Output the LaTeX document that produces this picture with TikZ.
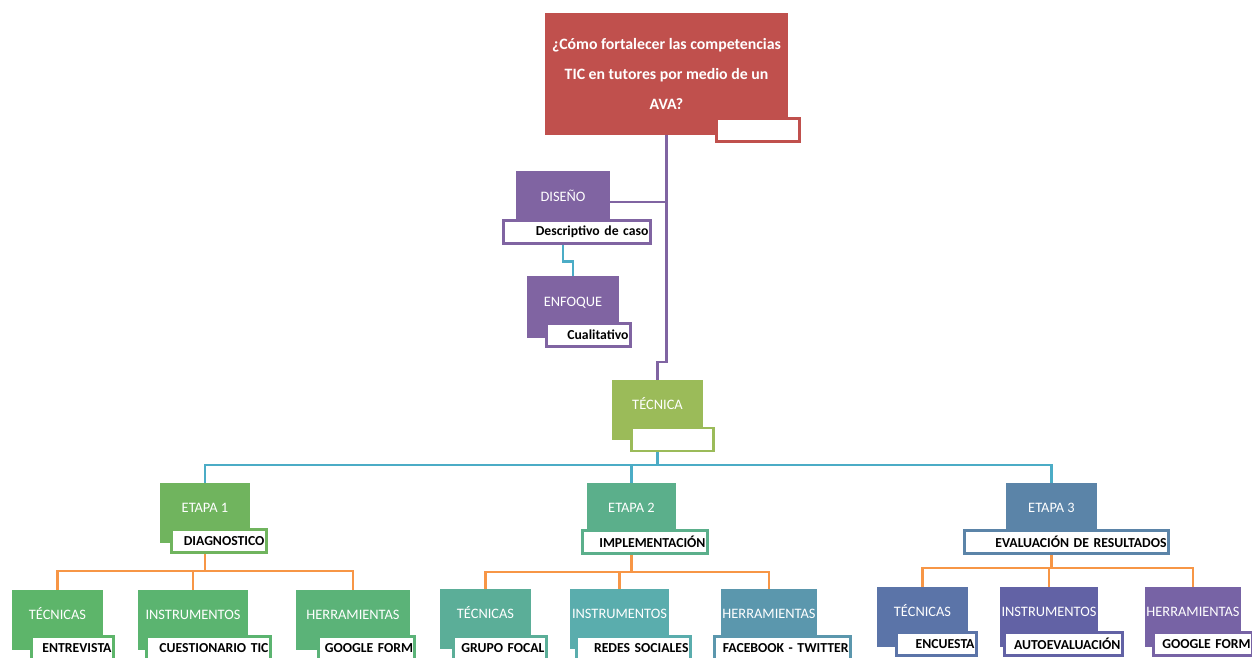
\documentclass[tikz,border=0pt]{standalone}
\usepackage{fontspec}
\setmainfont{Carlito}
\usetikzlibrary{calc}

\definecolor{rojo}{HTML}{C0504D}
\definecolor{morado}{HTML}{8064A2}
\definecolor{cian}{HTML}{4BACC6}
\definecolor{naranja}{HTML}{F79646}
\definecolor{verdeTec}{HTML}{9BBB59}
\definecolor{etapaA}{HTML}{70B45E}
\definecolor{etapaB}{HTML}{5BAF8B}
\definecolor{etapaC}{HTML}{5B84A8}
\definecolor{tecA}{HTML}{5DB56A}
\definecolor{insA}{HTML}{5BB470}
\definecolor{herA}{HTML}{5BB378}
\definecolor{tecB}{HTML}{5BAE98}
\definecolor{insB}{HTML}{5AADAD}
\definecolor{herB}{HTML}{5B97AD}
\definecolor{tecC}{HTML}{5B74A8}
\definecolor{insC}{HTML}{6262A5}
\definecolor{herC}{HTML}{7763A5}

\begin{document}
\begin{tikzpicture}[x=0.02cm,y=-0.02cm]

			\tikzstyle{caja}=[fill=#1, text=white, minimum height=1.2cm, text height=0.2cm, text depth=0.2cm, inner sep=1pt, font=\fontsize{8.2}{9}\selectfont]
			\tikzstyle{etiq}=[draw=#1, fill=white, line width=1.6pt, minimum height=0.46cm, inner xsep=1pt, inner ysep=1pt, align=right, font=\bfseries\fontsize{7.8}{9}\selectfont]
			\tikzstyle{linea}=[line width=1.6pt, draw=#1]

			\clip (0,0) rectangle (1252,658);

			% pregunta
			\node[fill=rojo, text=white, minimum width=4.86cm, minimum height=2.44cm, align=center, font=\bfseries\fontsize{9}{17}\selectfont] (pregunta) at (666.5,74) {¿Cómo fortalecer las competencias\\TIC en tutores por medio de un\\AVA?};
			\node[etiq=rojo, minimum width=1.66cm] (preguntaEt) at (758,130) {};

			% diseno y enfoque
			\node[caja=morado, minimum width=1.88cm, minimum height=1.24cm] (diseno) at (563,202) {DISEÑO};
			\node[etiq=morado, text width=2.86cm] (disenoEt) at (577,232) {Descriptivo de caso};
			\node[caja=morado, minimum width=1.84cm, minimum height=1.24cm] (enfoque) at (573,307) {ENFOQUE};
			\node[etiq=morado, text width=1.6cm] (enfoqueEt) at (588.5,335) {Cualitativo};

			% tecnica
			\node[caja=verdeTec, minimum width=1.82cm] (tecnica) at (657.5,410) {TÉCNICA};
			\node[etiq=verdeTec, minimum width=1.64cm] (tecnicaEt) at (672.5,439.5) {};

			% etapas
			\node[caja=etapaA, minimum width=1.8cm] (etapa1) at (205,513) {ETAPA 1};
			\node[etiq=etapaA, text width=1.82cm] (etapaEt1) at (219,541) {DIAGNOSTICO};
			\node[caja=etapaB, minimum width=1.78cm] (etapa2) at (631.5,513) {ETAPA 2};
			\node[etiq=etapaB, text width=2.42cm] (etapaEt2) at (645,542) {IMPLEMENTACIÓN};
			\node[caja=etapaC, minimum width=1.82cm] (etapa3) at (1051.5,513) {ETAPA 3};
			\node[etiq=etapaC, text width=4.0cm] (etapaEt3) at (1066.5,542) {EVALUACIÓN DE RESULTADOS};

			% etapa 1
			\node[caja=tecA, minimum width=1.82cm] (tec1) at (57.5,620) {TÉCNICAS};
			\node[etiq=tecA, text width=1.56cm] (tecEt1) at (72.5,648) {ENTREVISTA};
			\node[caja=insA, minimum width=2.2cm] (ins1) at (193,620) {INSTRUMENTOS};
			\node[etiq=insA, text width=2.4cm] (insEt1) at (208.5,648) {CUESTIONARIO TIC};
			\node[caja=herA, minimum width=2.28cm] (her1) at (353,620) {HERRAMIENTAS};
			\node[etiq=herA, text width=1.86cm] (herEt1) at (366.5,648) {GOOGLE FORM};

			% etapa 2
			\node[caja=tecB, minimum width=1.82cm] (tec2) at (485.5,619) {TÉCNICAS};
			\node[etiq=tecB, text width=1.78cm] (tecEt2) at (500,648) {GRUPO FOCAL};
			\node[caja=insB, minimum width=1.82cm] (ins2) at (619.5,619) {INSTRUMENTOS};
			\node[etiq=insB, text width=2.2cm] (insEt2) at (633.5,648) {REDES SOCIALES};
			\node[caja=herB, minimum width=1.84cm] (her2) at (769,619) {HERRAMIENTAS};
			\node[etiq=herB, text width=2.64cm] (herEt2) at (782.5,648) {FACEBOOK - TWITTER};

			% etapa 3
			\node[caja=tecC, minimum width=1.82cm] (tec3) at (922.5,617) {TÉCNICAS};
			\node[etiq=tecC, text width=1.52cm] (tecEt3) at (936.5,644) {ENCUESTA};
			\node[caja=insC, minimum width=1.84cm] (ins3) at (1049,617) {INSTRUMENTOS};
			\node[etiq=insC, text width=2.28cm] (insEt3) at (1063.5,644) {AUTOEVALUACIÓN};
			\node[caja=herC, minimum width=1.84cm] (her3) at (1193,617) {HERRAMIENTAS};
			\node[etiq=herC, text width=1.9cm] (herEt3) at (1203,644) {GOOGLE FORM};

			% conectores
			\coordinate (codoP) at (0,362);
			\coordinate (busE) at (0,465);
			\coordinate (bus1) at (0,571);
			\coordinate (bus2) at (0,572);
			\coordinate (bus3) at (0,568);

			\draw[linea=morado] (pregunta.south) |- (tecnica.north |- codoP) -- (tecnica.north);
			\draw[linea=morado] (diseno.east) -- (diseno.east -| pregunta.south);
			\draw[linea=cian] (diseno.south |- disenoEt.south) -- ++(0,17) -| (enfoque.north);

			\draw[linea=cian] (tecnica.south |- tecnicaEt.south) -- (tecnica.south |- busE);
			\draw[linea=cian] (etapa1.north) |- (etapa3.north |- busE) -- (etapa3.north);
			\draw[linea=cian] (etapa2.north) -- (etapa2.north |- busE);

			\foreach \n in {1,2,3}{
				\draw[linea=naranja] (etapa\n.south |- etapaEt\n.south) -- (etapa\n.south |- bus\n);
				\draw[linea=naranja] (tec\n.north) |- (her\n.north |- bus\n) -- (her\n.north);
				\draw[linea=naranja] (ins\n.north) -- (ins\n.north |- bus\n);
			}

\end{tikzpicture}
\end{document}
